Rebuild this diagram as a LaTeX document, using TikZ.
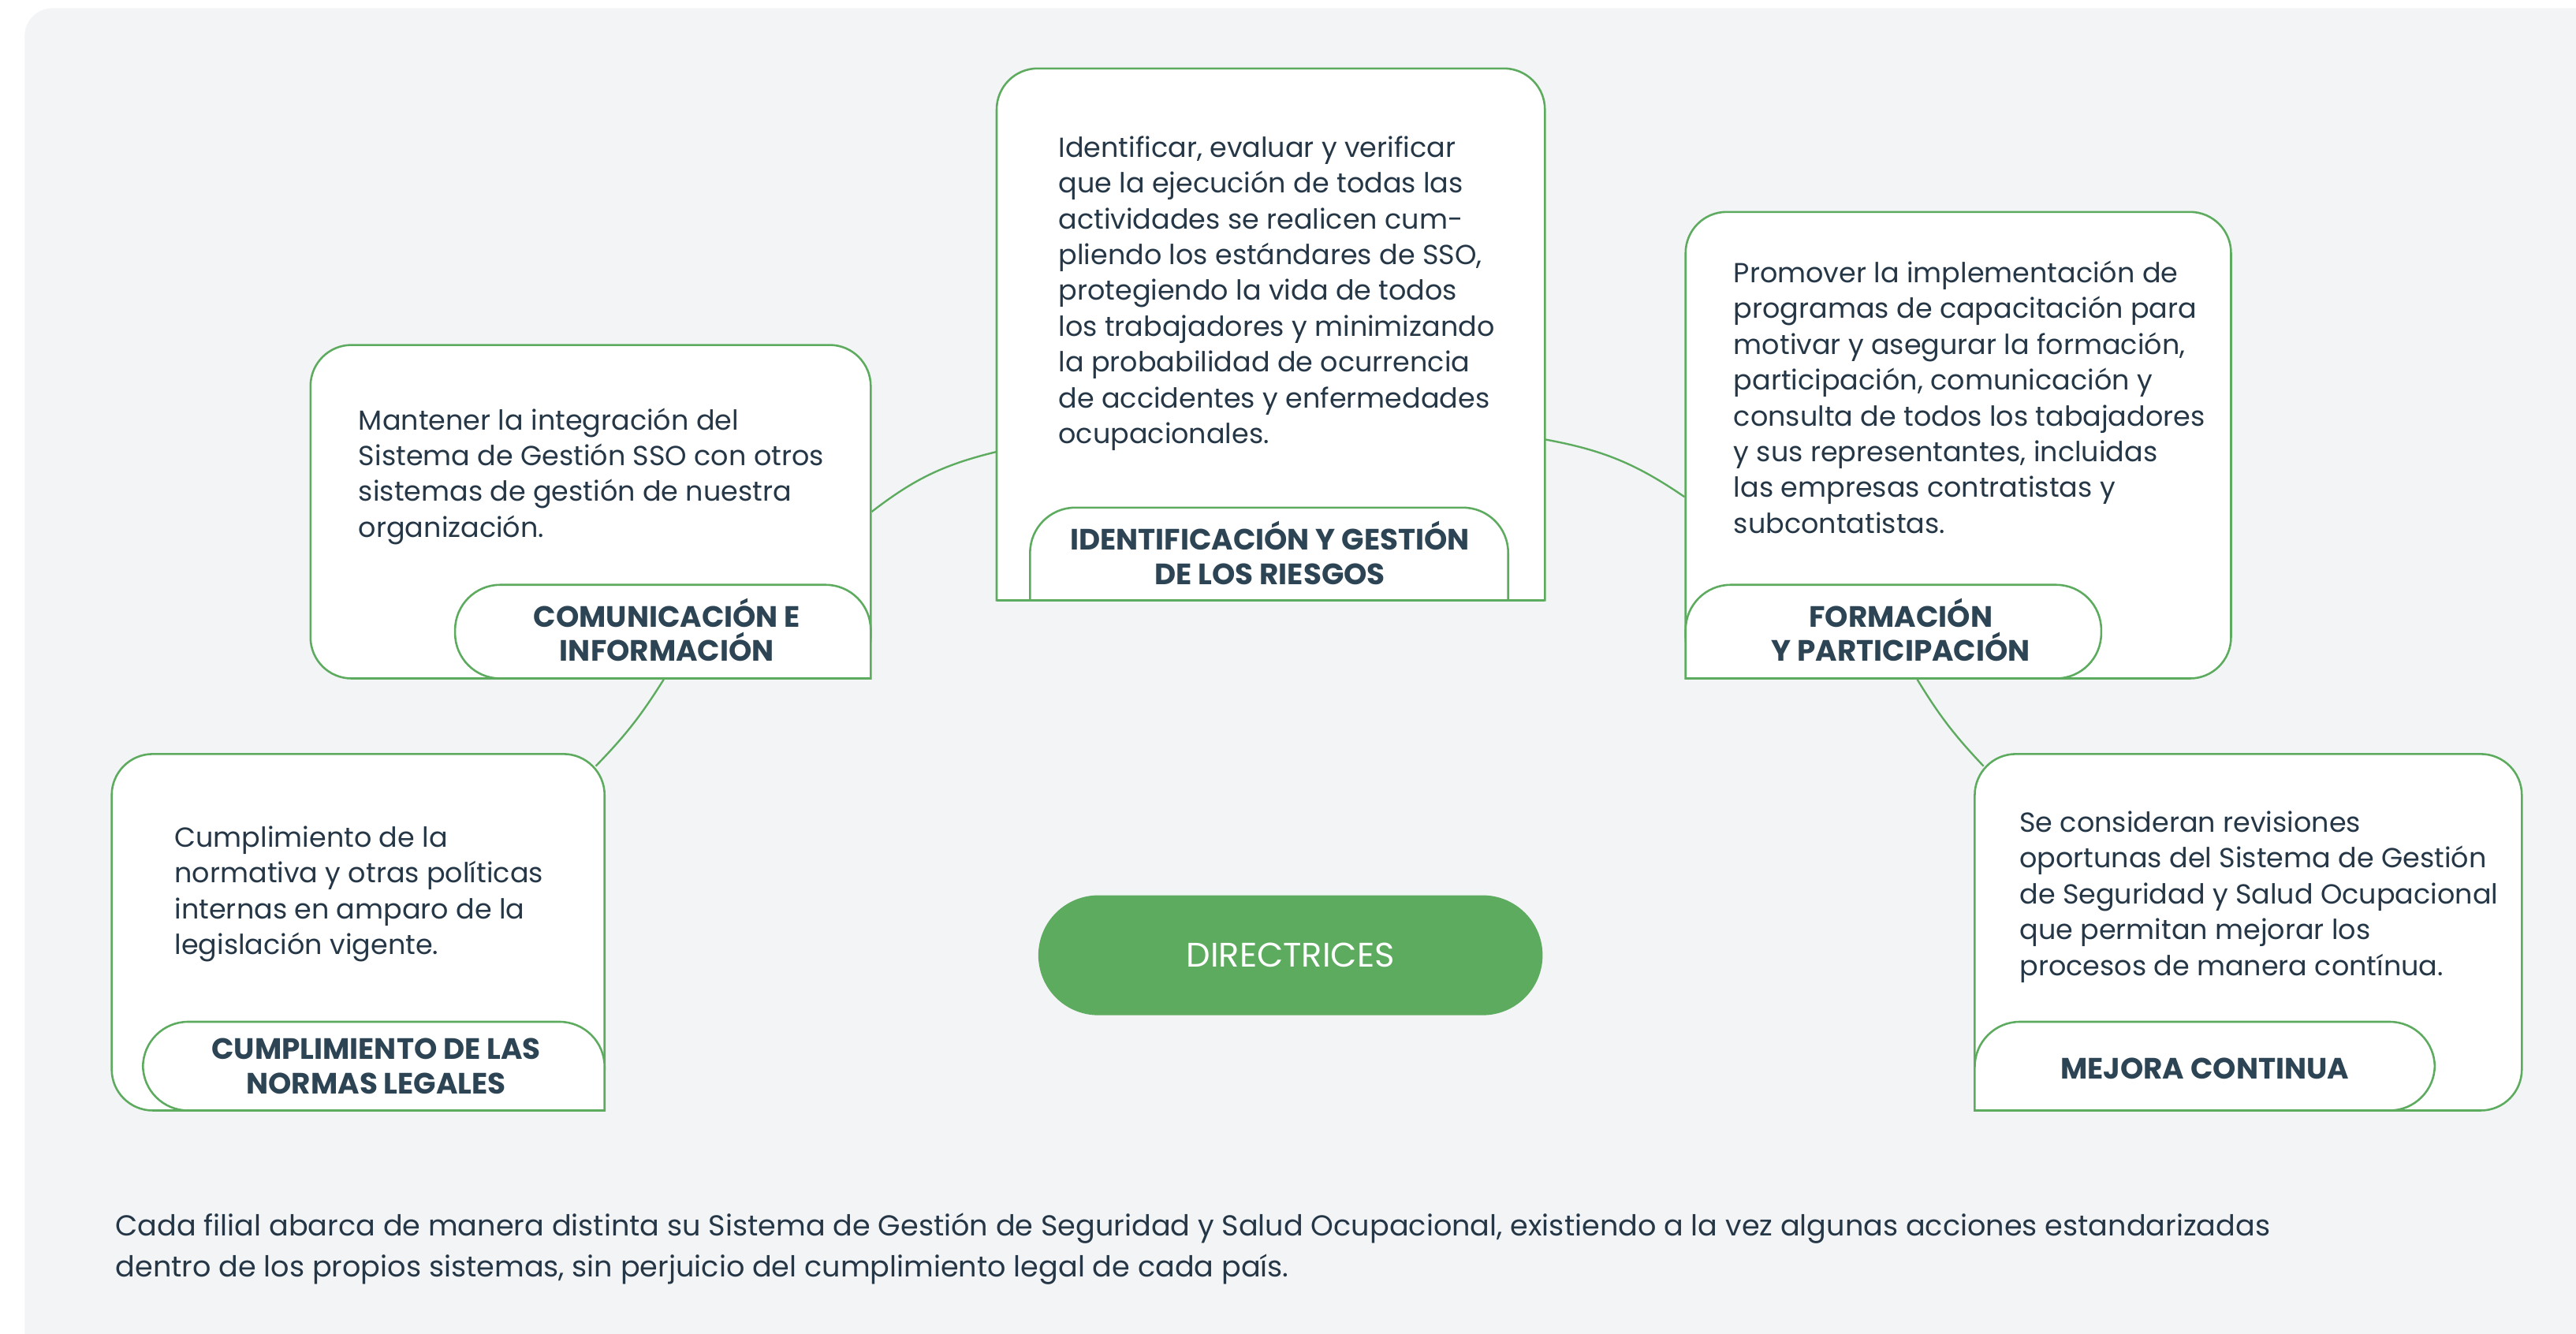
\documentclass[tikz,border=0pt]{standalone}
\usepackage{fontspec}
\setmainfont{Poppins}
\usetikzlibrary{calc,fit,backgrounds}
\definecolor{SSOGreen}{RGB}{93,171,94}
\definecolor{SSOPanel}{RGB}{243,244,246}
\definecolor{SSOText}{RGB}{37,55,70}
\definecolor{SSOHead}{RGB}{44,68,84}
\tikzset{
  card/.style={draw=SSOGreen,fill=white,line width=0.7pt,rounded corners=0.5cm,inner sep=0pt},
  tabline/.style={draw=SSOGreen,fill=white,line width=0.7pt,rounded corners=0.55cm,line cap=rect},
  txt/.style={anchor=north west,inner sep=0pt,align=left,text=SSOText,font=\fontsize{9.55}{12.4}\selectfont},
  ttl/.style={inner sep=0pt,align=center,text=SSOHead,font=\bfseries\fontsize{10.2}{11.9}\selectfont},
  pill/.style={fill=SSOGreen,text=white,minimum width=6.14cm,minimum height=1.46cm,rounded corners=0.73cm,inner sep=0pt,font=\fontsize{11.8}{13}\selectfont},
  lnk/.style={draw=SSOGreen,line width=0.65pt},
}
\begin{document}
\begin{tikzpicture}[x=0.02cm,y=-0.02cm]
  \useasboundingbox (0,0) rectangle (1568,812);
  \clip (0,0) rectangle (1568,812);
  % cards
  \node[card,fit={(189,210) (530,413)}] (com) {};
  \node[card,fit={(68,459) (368,676)}] (cum) {};
  \node[card,fit={(1026,129) (1358,413)}] (frm) {};
  \node[card,fit={(1202,459) (1535,676)}] (mej) {};
  \node[inner sep=0pt,fit={(607,42) (940,365)}] (idf) {};
  \filldraw[tabline,rounded corners=0.5cm] (idf.south west) -- (idf.north west) -- (idf.north east) -- (idf.south east);
  % tabs
  \filldraw[tabline] (918,365) -- (918,309) -- (627,309) -- (627,365);
  \draw[lnk,line width=0.7pt] (idf.south west) -- (idf.south east);
  \filldraw[tabline] (530,413) -- (530,356) -- (277,356) -- (277,413) -- (530,413);
  \filldraw[tabline] (368,676) -- (368,622) -- (87,622) -- (87,676) -- (368,676);
  \filldraw[tabline] (1026,413) -- (1026,356) -- (1279,356) -- (1279,413) -- (1026,413);
  \filldraw[tabline] (1202,676) -- (1202,622) -- (1482,622) -- (1482,676) -- (1202,676);
  % texts
  \node[txt] (idftxt) at (644,82.5) {Identificar, evaluar y verificar\\que la ejecución de todas las\\actividades se realicen cum-\\pliendo los estándares de SSO,\\protegiendo la vida de todos\\los trabajadores y minimizando\\la probabilidad de ocurrencia\\de accidentes y enfermedades\\ocupacionales.};
  \node[txt] (comtxt) at (218,248) {Mantener la integración del\\Sistema de Gestión SSO con otros\\sistemas de gestión de nuestra\\organización.};
  \node[txt] (cumtxt) at (106,502.5) {Cumplimiento de la\\normativa y otras políticas\\internas en amparo de la\\legislación vigente.};
  \node[txt] (frmtxt) at (1055,158.5) {Promover la implementación de\\programas de capacitación para\\motivar y asegurar la formación,\\participación, comunicación y\\consulta de todos los tabajadores\\y sus representantes, incluidas\\las empresas contratistas y\\subcontatistas.};
  \node[txt] (mejtxt) at (1229,493.5) {Se consideran revisiones\\oportunas del Sistema de Gestión\\de Seguridad y Salud Ocupacional\\que permitan mejorar los\\procesos de manera contínua.};
  % titles
  \node[ttl] (idfttl) at (773,336.5) {IDENTIFICACIÓN Y GESTIÓN\\DE LOS RIESGOS};
  \node[ttl] (comttl) at (406,383.5) {COMUNICACIÓN E\\INFORMACIÓN};
  \node[ttl] (cumttl) at (229,649) {CUMPLIMIENTO DE LAS\\NORMAS LEGALES};
  \node[ttl] (frmttl) at (1157,383.5) {FORMACIÓN\\Y PARTICIPACIÓN};
  \node[ttl] (mejttl) at (1342,650.5) {MEJORA CONTINUA};
  \node[pill] (dir) at (785.5,581.5) {DIRECTRICES};
  \node[txt,font=\fontsize{10}{14.2}\selectfont] (note) at (70,738) {Cada filial abarca de manera distinta su Sistema de Gestión de Seguridad y Salud Ocupacional, existiendo a la vez algunas acciones estandarizadas\\dentro de los propios sistemas, sin perjuicio del cumplimiento legal de cada país.};
  \begin{scope}[on background layer]
    \fill[white] (0,0) rectangle (1568,812);
    \fill[SSOPanel,rounded corners=0.34cm] (15,5) rectangle (1620,860);
    \draw[lnk] (com.east) to[bend left=12] ($(idf.west)+(0,71.5)$);
    \draw[lnk] ($(idf.east)+(0,64)$) to[bend left=12] ($(frm.west)+(0,31.5)$);
    \draw[lnk] ($(com.south)+(44.5,0)$) to[bend left=6] ($(cum.north east)+(-6,8)$);
    \draw[lnk] ($(frm.south)+(-25,0)$) to[bend right=6] ($(mej.north west)+(6,8)$);
  \end{scope}
\end{tikzpicture}
\end{document}
